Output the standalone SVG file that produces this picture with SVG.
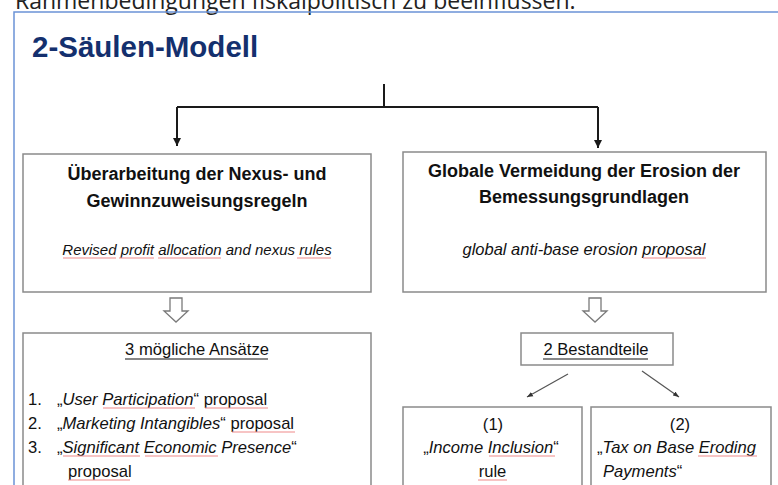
<svg xmlns="http://www.w3.org/2000/svg" width="778" height="485" viewBox="0 0 778 485">
  <defs>
    <style>
      .box { fill: #ffffff; stroke: #8a8a8a; stroke-width: 1.5; }
      .head { font-family: "Liberation Sans", Arial, sans-serif; font-weight: bold; font-size: 18px; fill: #111; text-anchor: middle; }
      .sub { font-family: "Liberation Sans", Arial, sans-serif; font-style: italic; font-size: 15px; fill: #111; text-anchor: middle; }
      .sub.wide { font-size: 16.5px; }
      .body { font-family: "Liberation Sans", Arial, sans-serif; font-size: 16.6px; fill: #111; }
      .it { font-style: italic; }
      .conn { fill: none; stroke: #1a1a1a; stroke-width: 2; }
      .thin { fill: none; stroke: #555; stroke-width: 1.2; }
      .hollow { fill: #ffffff; stroke: #7a7a7a; stroke-width: 1.3; stroke-linejoin: miter; }
      .spell { fill: none; stroke: #f08a8a; stroke-width: 1.2; }
      .uline { stroke: #111; stroke-width: 1.2; }
    </style>
    <marker id="tip" viewBox="0 0 10 10" refX="10" refY="5" markerWidth="4" markerHeight="4" orient="auto" markerUnits="strokeWidth">
      <path d="M0,0 L10,5 L0,10 z" fill="#1a1a1a"/>
    </marker>
    <marker id="tipSmall" viewBox="0 0 10 10" refX="10" refY="5" markerWidth="5" markerHeight="5" orient="auto" markerUnits="strokeWidth">
      <path d="M0,1 L10,5 L0,9 z" fill="#333"/>
    </marker>
  </defs>

  <rect x="0" y="0" width="778" height="485" fill="#ffffff"/>

  <!-- running text above the slide, clipped at the top -->
  <text x="15" y="8.5" font-family="'Open Sans', 'Noto Sans', sans-serif" font-size="23" fill="#222">Rahmenbedingungen fiskalpolitisch zu beeinflussen.</text>

  <!-- slide frame -->
  <path d="M14,485 V12 H778" fill="none" stroke="#6b93d6" stroke-width="1.5"/>

  <!-- slide title -->
  <text x="32" y="57" font-family="'Liberation Sans', Arial, sans-serif" font-weight="bold" font-size="29.5" fill="#14306e">2-Säulen-Modell</text>

  <!-- connectors -->
  <g id="connectors">
    <path class="conn" d="M384,84 V107"/>
    <path class="conn" d="M177,107 H598"/>
    <path class="conn" d="M177,107 V146" marker-end="url(#tip)"/>
    <path class="conn" d="M598,107 V148" marker-end="url(#tip)"/>
    <polygon class="hollow" points="170,298 182,298 182,311 188,311 176,322 164,311 170,311"/>
    <polygon class="hollow" points="589,298 601,298 601,311 607,311 595,322 583,311 589,311"/>
    <path class="thin" d="M568,374 L527,397" marker-end="url(#tipSmall)"/>
    <path class="thin" d="M642,371 L679,397" marker-end="url(#tipSmall)"/>
  </g>

  <!-- pillar 1 -->
  <g id="pillar1">
    <rect class="box" x="23" y="154" width="348" height="138"/>
    <text class="head" x="197" y="180">Überarbeitung der Nexus- und</text>
    <text class="head" x="197" y="207">Gewinnzuweisungsregeln</text>
    <text class="sub" x="197" y="255">Revised profit allocation and nexus rules</text>
  </g>

  <!-- pillar 2 -->
  <g id="pillar2">
    <rect class="box" x="403" y="152" width="363" height="140"/>
    <text class="head" x="584" y="177">Globale Vermeidung der Erosion der</text>
    <text class="head" x="584" y="203">Bemessungsgrundlagen</text>
    <text class="sub wide" x="584" y="255">global anti-base erosion proposal</text>
  </g>

  <!-- approaches of pillar 1 -->
  <g id="approaches">
    <rect class="box" x="23" y="333" width="348" height="170"/>
    <text class="body" x="197" y="355" text-anchor="middle">3 mögliche Ansätze</text>
    <line class="uline" x1="125" y1="359" x2="268" y2="359"/>
    <text class="body" x="28" y="405">1.</text>
    <text class="body" x="57" y="405">„<tspan class="it">User Participation</tspan>“ proposal</text>
    <text class="body" x="28" y="429">2.</text>
    <text class="body" x="57" y="429">„<tspan class="it">Marketing Intangibles</tspan>“ proposal</text>
    <text class="body" x="28" y="453">3.</text>
    <text class="body" x="57" y="453">„<tspan class="it">Significant Economic Presence</tspan>“</text>
    <text class="body" x="68" y="477">proposal</text>
  </g>

  <!-- components of pillar 2 -->
  <g id="components">
    <rect class="box" x="521" y="333" width="152" height="32"/>
    <text class="body" x="596" y="355" text-anchor="middle">2 Bestandteile</text>
    <line class="uline" x1="543" y1="359" x2="648" y2="359"/>
  </g>

  <g id="income-inclusion">
    <rect class="box" x="403" y="407" width="179" height="100"/>
    <text class="body" x="493" y="430" text-anchor="middle">(1)</text>
    <text class="body" x="491" y="453" text-anchor="middle">„<tspan class="it">Income Inclusion</tspan>“</text>
    <text class="body" x="492.5" y="477" text-anchor="middle">rule</text>
  </g>

  <g id="tax-on-base">
    <rect class="box" x="591" y="407" width="180" height="100"/>
    <text class="body" x="680" y="430" text-anchor="middle">(2)</text>
    <text class="body" x="597" y="453">„<tspan class="it">Tax on Base Eroding</tspan></text>
    <text class="body" x="603" y="477"><tspan class="it">Payments</tspan>“</text>
  </g>

  <!-- spell-check marks under words -->
  <g id="spelling-marks">
    <path class="spell" d="M63,258 H116 M119,258 H154 M158,258 H221 M297,258 H331"/>
    <path class="spell" d="M643,258 H706"/>
    <path class="spell" d="M103,408 H195 M205,408 H268"/>
    <path class="spell" d="M232,432 H295"/>
    <path class="spell" d="M63,456 H140 M145,456 H218 M68,480 H130"/>
    <path class="spell" d="M489,456 H555 M478,480 H507"/>
    <path class="spell" d="M698,456 H757"/>
  </g>
</svg>
